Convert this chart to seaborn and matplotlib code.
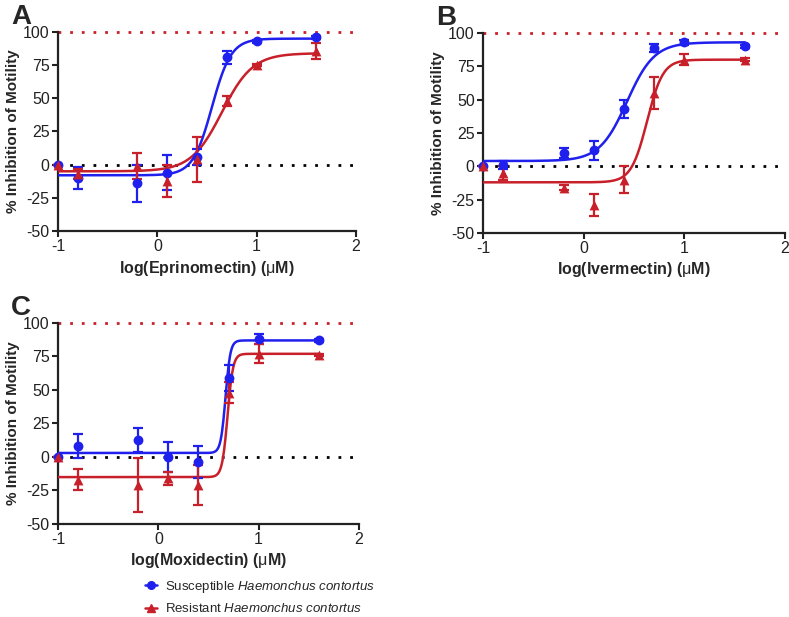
import numpy as np
import pandas as pd
import matplotlib
matplotlib.use("Agg")
import matplotlib.pyplot as plt
import seaborn as sns
from matplotlib.lines import Line2D

sns.set_style("ticks")
plt.rcParams['font.family'] = ['Liberation Sans', 'DejaVu Sans']
plt.rcParams['mathtext.fontset'] = 'custom'
plt.rcParams['mathtext.rm'] = 'Liberation Sans'
plt.rcParams['mathtext.it'] = 'Liberation Sans:italic'
plt.rcParams['mathtext.bf'] = 'Liberation Sans:bold'

# ---- data ----
log_conc = [-1.0, -0.8, -0.2, 0.1, 0.4, 0.7, 1.0, 1.6]

drugs = ["Eprinomectin", "Ivermectin", "Moxidectin"]
panel_letters = ["A", "B", "C"]

sus_mean = {
    "Eprinomectin": [0, -10, -14, -6, 6, 81, 93, 96],
    "Ivermectin":   [0, 1, 10, 12, 43, 89, 93, 90],
    "Moxidectin":   [0, 8, 13, 0, -4, 59, 88, 87],
}
sus_err = {
    "Eprinomectin": [0, 8, 14, 13, 6, 5, 1, 1],
    "Ivermectin":   [0, 3, 4, 7, 7, 3, 2, 1],
    "Moxidectin":   [0, 9, 9, 11, 12, 10, 4, 1],
}
res_mean = {
    "Eprinomectin": [0, -7, -1, -12, 4, 48, 75, 86],
    "Ivermectin":   [0, -5, -16, -29, -10, 55, 80, 80],
    "Moxidectin":   [0, -17, -21, -16, -21, 48, 77, 76],
}
res_err = {
    "Eprinomectin": [0, 4, 10, 12, 17, 4, 1, 6],
    "Ivermectin":   [0, 5, 2, 8, 10, 12, 4, 1],
    "Moxidectin":   [0, 8, 20, 5, 15, 8, 7, 1],
}
# fitted 4-parameter logistic curves: bottom, top, logEC50, hill slope
sus_fit = {
    "Eprinomectin": [-8, 95, 0.55, 4.5],
    "Ivermectin":   [4, 93, 0.43, 3.2],
    "Moxidectin":   [3, 87, 0.67, 18],
}
res_fit = {
    "Eprinomectin": [-5, 84, 0.65, 2.8],
    "Ivermectin":   [-12, 80, 0.63, 5.5],
    "Moxidectin":   [-15, 77, 0.69, 16],
}

yticks = [-50, -25, 0, 25, 50, 75, 100]
xticks = [-1, 0, 1, 2]

BLUE = "#2020ee"
RED = "#c8202a"


def logistic(x, p):
    b, t, ec, h = p
    return b + (t - b) / (1 + 10 ** ((ec - x) * h))


fig = plt.figure(figsize=(7.89, 6.17), dpi=100)
positions = [
    [58 / 789, (617 - 231) / 617, 298 / 789, 199 / 617],
    [483 / 789, (617 - 233) / 617, 302 / 789, 200 / 617],
    [58 / 789, (617 - 524) / 617, 301 / 789, 201 / 617],
]

xs = np.linspace(-1, 1.6, 400)

for drug, letter, pos in zip(drugs, panel_letters, positions):
    ax = fig.add_axes(pos)
    # reference lines
    ax.plot([-1, 2], [100, 100], linestyle=(0, (1, 3.2)), color=RED, lw=2.0, zorder=1, clip_on=False)
    ax.plot([-1, 2], [0, 0], linestyle=(0, (1, 3.2)), color="black", lw=2.0, zorder=1)

    for mean, err, fit, color, marker in [
        (sus_mean[drug], sus_err[drug], sus_fit[drug], BLUE, "o"),
        (res_mean[drug], res_err[drug], res_fit[drug], RED, "^"),
    ]:
        curve = pd.DataFrame({"x": xs, "y": logistic(xs, fit)})
        sns.lineplot(data=curve, x="x", y="y", ax=ax, color=color, lw=1.8, zorder=3)
        ax.errorbar(log_conc, mean, yerr=err, fmt="none", ecolor=color,
                    elinewidth=1.6, capsize=3.5, capthick=1.6, zorder=4, clip_on=False)
        pts = pd.DataFrame({"x": log_conc, "y": mean})
        sns.scatterplot(data=pts, x="x", y="y", ax=ax, color=color, marker=marker,
                        s=50, edgecolor=color, linewidth=0, zorder=5, clip_on=False)

    ax.set_xlim(-1, 2)
    ax.set_ylim(-50, 100)
    ax.set_xticks(xticks)
    ax.set_yticks(yticks)
    ax.set_xticklabels([str(t) for t in xticks])
    ax.set_yticklabels([str(t) for t in yticks])
    ax.tick_params(labelsize=11.5, width=1.5, length=4, color="#222222", labelcolor="#222222", pad=2)
    for s in ["top", "right"]:
        ax.spines[s].set_visible(False)
    for s in ["left", "bottom"]:
        ax.spines[s].set_linewidth(1.6)
        ax.spines[s].set_color("#222222")
    ax.set_xlabel(f"log({drug}) ($\\mathrm{{\\mu}}$M)", fontsize=11.5, fontweight="bold", labelpad=3)
    ax.set_ylabel("% Inhibition of Motility", fontsize=11, fontweight="bold", labelpad=2)
    ax.text(-0.155, 1.01, letter, transform=ax.transAxes, fontsize=20, fontweight="bold",
            ha="left", va="bottom")

handles = [
    Line2D([0], [0], color=BLUE, marker="o", lw=1.8, markersize=5.5),
    Line2D([0], [0], color=RED, marker="^", lw=1.8, markersize=5.5),
]
labels = ["Susceptible $\\it{Haemonchus\\ contortus}$",
          "Resistant $\\it{Haemonchus\\ contortus}$"]
fig.legend(handles, labels, loc="upper left", bbox_to_anchor=(145 / 789, 1 - 579 / 617),
           frameon=False, fontsize=9.5, handlelength=0.9, handletextpad=0.6, labelspacing=0.55,
           borderaxespad=0, borderpad=0)

fig.savefig("out.png", dpi=100)
